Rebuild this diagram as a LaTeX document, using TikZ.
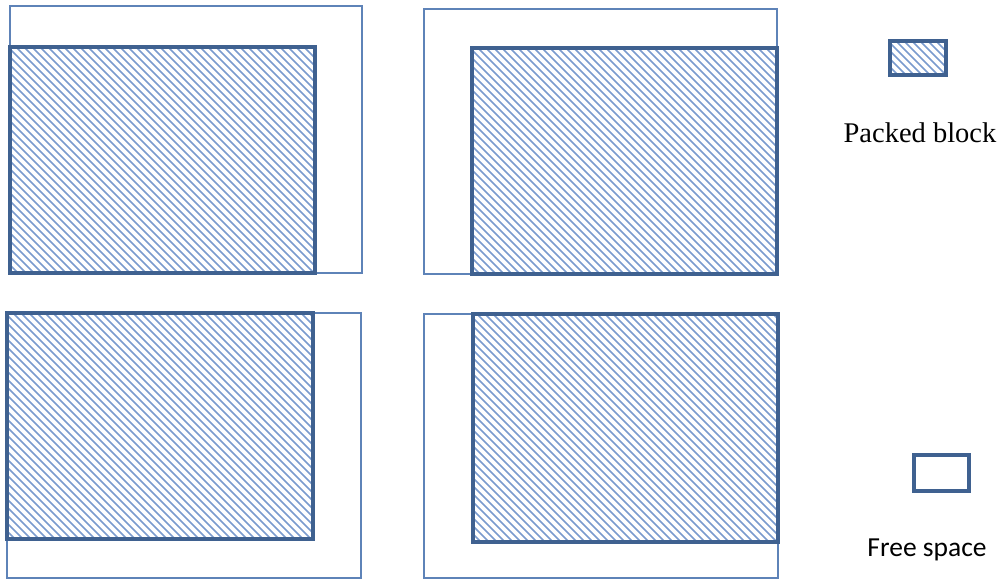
\documentclass[tikz,border=0pt]{standalone}
\usepackage{fontspec}
\setmainfont{Liberation Serif}
\newfontfamily\freefont{Carlito}
\definecolor{outerblue}{HTML}{5E83B8}
\definecolor{innerblue}{HTML}{3F6190}
\definecolor{hatchblue}{HTML}{7A9BCE}
\tikzset{
  outerbox/.style={draw=outerblue, line width=1.5pt},
  innerbox/.style={draw=innerblue, line width=3.5pt, line join=miter},
  hatchline/.style={draw=hatchblue, line width=1.6pt},
  legendbox/.style={draw=innerblue, line width=3.5pt},
}
% hatched rectangle: #1 name, (#2,#3) top-left, (#4,#5) bottom-right
\newcommand{\hatchbox}[5]{%
  \fill[white] (#2,#3) rectangle (#4,#5);
  \begin{scope}
    \clip (#2,#3) rectangle (#4,#5);
    \pgfmathtruncatemacro{\cstart}{#2-#5-8}
    \pgfmathtruncatemacro{\cnext}{\cstart+8}
    \pgfmathtruncatemacro{\cend}{#4-#3+8}
    \foreach \c in {\cstart,\cnext,...,\cend}
      \draw[hatchline] ({\c+#3-10},{#3-10}) -- ({\c+#5+10},{#5+10});
  \end{scope}
  \path[innerbox] (#2,#3) rectangle (#4,#5);
  \coordinate (#1) at ({(#2+#4)/2},{(#3+#5)/2});
}
\begin{document}
\begin{tikzpicture}[x=1pt,y=-1pt]
\useasboundingbox (0,0) rectangle (1000,581);
% panel 1
\draw[outerbox] (10,6) rectangle (362,273);
\hatchbox{p1}{10}{47}{315}{273}
% panel 2
\draw[outerbox] (424,9) rectangle (777,274);
\hatchbox{p2}{472}{48}{777}{274}
% panel 3
\draw[outerbox] (7,313) rectangle (361,578);
\hatchbox{p3}{7}{313}{313}{539}
% panel 4
\draw[outerbox] (424,314) rectangle (778,578);
\hatchbox{p4}{473}{314}{778}{542}
% legend
\hatchbox{lp}{890}{41}{946}{75}
\node[anchor=base, font=\fontsize{28.5}{32}\selectfont, inner sep=0pt] (lpt) at (920,142) {Packed block};
\path[legendbox] (914,455) rectangle (969,491);
\coordinate (lf) at (941,473);
\node[anchor=base, font=\freefont\fontsize{27.5}{32}\selectfont, inner sep=0pt] (lft) at (927,556) {Free space};
\end{tikzpicture}
\end{document}
